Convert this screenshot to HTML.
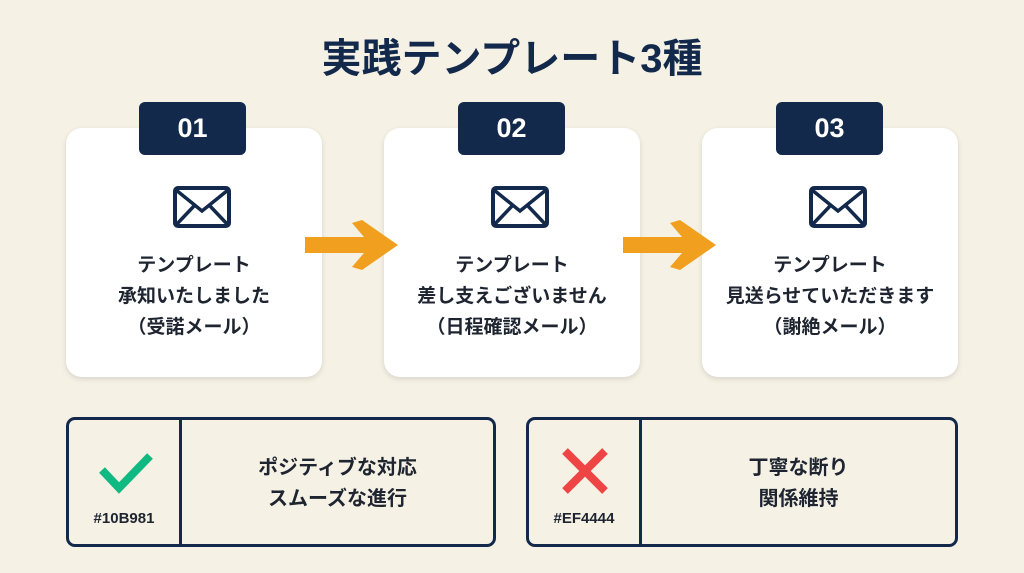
<!DOCTYPE html><html><head><meta charset="utf-8"><style>
body{margin:0;width:1024px;height:573px;background:#f5f1e5;font-family:"Liberation Sans","Noto Sans CJK JP",sans-serif;position:relative;overflow:hidden;color:#1e2530}
.t{position:absolute;left:0;width:1024px;top:26px;text-align:center;font-size:40px;font-weight:bold;color:#13294b}
.card{position:absolute;top:128px;width:256px;height:249px;background:#fff;border-radius:16px;box-shadow:0 2px 6px rgba(0,0,0,.12)}
.badge{position:absolute;top:102px;width:107px;height:53px;background:#13294b;border-radius:6px;color:#fff;font-weight:bold;font-size:27px;text-align:center;line-height:53px}
.env{position:absolute;top:57px;left:106px}
.txt{position:absolute;top:122px;left:0;width:100%;text-align:center;font-size:19px;font-weight:bold;line-height:31px}
.box{position:absolute;top:417px;height:124px;border:3px solid #13294b;border-radius:9px;box-sizing:content-box}
.div{position:absolute;top:0;bottom:0;width:3px;background:#13294b}
.code{position:absolute;top:90px;font-size:15px;font-weight:bold;width:110px;text-align:center}
.bt{position:absolute;top:33px;text-align:center;font-size:20px;font-weight:bold;line-height:31px}
</style></head><body>
<div class="t">実践テンプレート3種</div>
<div class="card" style="left:66px"><svg class="env" width="60" height="44" viewBox="0 0 60 44"><rect x="3" y="3" width="54" height="38" rx="3" fill="none" stroke="#13294b" stroke-width="4"/><path d="M4 5 L30 26 L56 5 M4 40 L22 21 M56 40 L38 21" fill="none" stroke="#13294b" stroke-width="3.5"/></svg><div class="txt">テンプレート<br>承知いたしました<br>（受諾メール）</div></div>
<div class="card" style="left:384px"><svg class="env" width="60" height="44" viewBox="0 0 60 44"><rect x="3" y="3" width="54" height="38" rx="3" fill="none" stroke="#13294b" stroke-width="4"/><path d="M4 5 L30 26 L56 5 M4 40 L22 21 M56 40 L38 21" fill="none" stroke="#13294b" stroke-width="3.5"/></svg><div class="txt">テンプレート<br>差し支えございません<br>（日程確認メール）</div></div>
<div class="card" style="left:702px"><svg class="env" width="60" height="44" viewBox="0 0 60 44"><rect x="3" y="3" width="54" height="38" rx="3" fill="none" stroke="#13294b" stroke-width="4"/><path d="M4 5 L30 26 L56 5 M4 40 L22 21 M56 40 L38 21" fill="none" stroke="#13294b" stroke-width="3.5"/></svg><div class="txt">テンプレート<br>見送らせていただきます<br>（謝絶メール）</div></div>
<div class="badge" style="left:139px">01</div>
<div class="badge" style="left:458px">02</div>
<div class="badge" style="left:776px">03</div>
<svg style="position:absolute;left:300px;top:220px" width="110" height="52"><polygon points="5,17 64,17 52,3 62,0 98,25 62,50 52,47 64,33 5,33" fill="#f0a01e"/></svg>
<svg style="position:absolute;left:618px;top:220px" width="110" height="52"><polygon points="5,17 64,17 52,3 62,0 98,25 62,50 52,47 64,33 5,33" fill="#f0a01e"/></svg>
<div class="box" style="left:66px;width:424px"><div class="div" style="left:110px"></div>
<svg style="position:absolute;left:28px;top:30px" width="60" height="45"><path d="M5 20 L22 38 L53 6" fill="none" stroke="#10b981" stroke-width="8"/></svg>
<div class="code" style="left:0">#10B981</div><div class="bt" style="left:113px;width:311px">ポジティブな対応<br>スムーズな進行</div></div>
<div class="box" style="left:526px;width:426px"><div class="div" style="left:110px"></div>
<svg style="position:absolute;left:31px;top:26px" width="50" height="50"><path d="M5 5 L45 45 M45 5 L5 45" stroke="#ef4444" stroke-width="8"/></svg>
<div class="code" style="left:0">#EF4444</div><div class="bt" style="left:113px;width:313px">丁寧な断り<br>関係維持</div></div>
</body></html>
